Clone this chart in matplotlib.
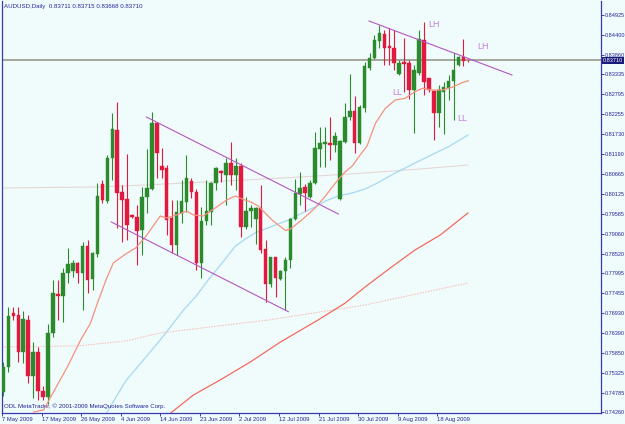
"""Recreate the AUDUSD daily MetaTrader candlestick chart."""

import matplotlib

matplotlib.use("Agg")
import matplotlib.pyplot as plt
from matplotlib.transforms import blended_transform_factory

OUTPUT = "out.png"

# daily candles, one entry per bar (the ODL feed has Sunday bars)
OPEN = [
    0.74810, 0.75480, 0.76929, 0.76876, 0.75883, 0.76741, 0.75239, 0.75883, 0.74836, 0.74675,
    0.76393, 0.77439, 0.77385, 0.78002, 0.78056, 0.78271, 0.78002, 0.78727, 0.77841, 0.78512,
    0.80390, 0.79934, 0.81088, 0.81839, 0.80176, 0.79988, 0.79559, 0.79505, 0.79156, 0.80041,
    0.80256, 0.82027, 0.80873, 0.80820, 0.79478, 0.78754, 0.79612, 0.79907, 0.80471, 0.80176,
    0.78271, 0.79397, 0.79639, 0.80417, 0.80739, 0.80632, 0.80954, 0.80632, 0.80873, 0.79237,
    0.79666, 0.79451, 0.79746, 0.78646, 0.77707, 0.78432, 0.77841, 0.78056, 0.78351, 0.79451,
    0.80122, 0.80310, 0.80041, 0.80417, 0.81329, 0.81463, 0.81490, 0.81437, 0.79988, 0.81517,
    0.82188, 0.82349, 0.81490, 0.82429, 0.83503, 0.83771, 0.84227, 0.84415, 0.84093, 0.84039,
    0.83342, 0.83664, 0.83637, 0.82912, 0.83368, 0.84254, 0.83234, 0.82886, 0.82295, 0.82859,
    0.82966, 0.83154, 0.83583, 0.83798, 0.83711,
]
HIGH = [
    0.75615, 0.77090, 0.77090, 0.77090, 0.76983, 0.76876, 0.76151, 0.76017, 0.74971, 0.76634,
    0.77815, 0.77815, 0.78137, 0.78673, 0.78351, 0.78298, 0.78834, 0.78888, 0.78566, 0.80417,
    0.80498, 0.81168, 0.82295, 0.82590, 0.80363, 0.81195, 0.79586, 0.79827, 0.80310, 0.81329,
    0.82322, 0.82054, 0.81356, 0.80900, 0.79961, 0.79961, 0.80498, 0.81168, 0.80551, 0.80256,
    0.79773, 0.80498, 0.80444, 0.80846, 0.80766, 0.81088, 0.81517, 0.81088, 0.80954, 0.80041,
    0.79827, 0.79773, 0.80363, 0.78888, 0.78432, 0.78432, 0.78083, 0.78432, 0.79478, 0.80524,
    0.80712, 0.80390, 0.80498, 0.81785, 0.81919, 0.81919, 0.82188, 0.81785, 0.81571, 0.82564,
    0.83342, 0.82751, 0.82510, 0.83664, 0.83905, 0.84388, 0.84656, 0.84522, 0.84576, 0.84522,
    0.83717, 0.84307, 0.83717, 0.83583, 0.84522, 0.84737, 0.83234, 0.82912, 0.83047, 0.83127,
    0.83315, 0.83905, 0.83825, 0.84281, 0.83715,
]
LOW = [
    0.74702, 0.75346, 0.76741, 0.75615, 0.75588, 0.75051, 0.74649, 0.74595, 0.74595, 0.74488,
    0.76285, 0.76741, 0.76688, 0.77734, 0.77895, 0.77734, 0.77010, 0.77466, 0.77546, 0.78432,
    0.79881, 0.79881, 0.80498, 0.79210, 0.78834, 0.78888, 0.79478, 0.78217, 0.78485, 0.79612,
    0.80229, 0.80551, 0.80551, 0.79022, 0.78539, 0.78485, 0.79344, 0.79639, 0.80015, 0.78083,
    0.77868, 0.79290, 0.79290, 0.80229, 0.80444, 0.79827, 0.80363, 0.80229, 0.78968, 0.79183,
    0.79237, 0.78781, 0.78539, 0.77224, 0.77627, 0.77358, 0.77815, 0.77010, 0.78137, 0.79424,
    0.79827, 0.79666, 0.80015, 0.80390, 0.80846, 0.80846, 0.81034, 0.81249, 0.79961, 0.81490,
    0.82107, 0.81222, 0.81463, 0.82322, 0.83449, 0.83744, 0.84039, 0.83583, 0.83583, 0.83449,
    0.83315, 0.82859, 0.82671, 0.81759, 0.83315, 0.82778, 0.82859, 0.81571, 0.81919, 0.81732,
    0.82644, 0.82107, 0.83556, 0.83556, 0.83668,
]
CLOSE = [
    0.75480, 0.76849, 0.76849, 0.75883, 0.76768, 0.75239, 0.75883, 0.74836, 0.74675, 0.76393,
    0.77466, 0.77385, 0.78002, 0.78244, 0.78271, 0.78002, 0.78727, 0.77815, 0.78539, 0.80068,
    0.79961, 0.81088, 0.81866, 0.80149, 0.79961, 0.79290, 0.79505, 0.79129, 0.80041, 0.80283,
    0.82027, 0.81222, 0.80766, 0.79424, 0.78754, 0.79639, 0.79934, 0.80551, 0.80176, 0.78271,
    0.79397, 0.79666, 0.80417, 0.80820, 0.80685, 0.80954, 0.80632, 0.80873, 0.79237, 0.79666,
    0.79746, 0.79746, 0.78620, 0.77707, 0.78432, 0.77868, 0.78056, 0.78351, 0.79451, 0.80149,
    0.80283, 0.80149, 0.80417, 0.81356, 0.81490, 0.81517, 0.81437, 0.81678, 0.81544, 0.82188,
    0.82349, 0.81490, 0.82456, 0.83556, 0.83771, 0.84254, 0.84441, 0.84039, 0.84039, 0.83637,
    0.83637, 0.83610, 0.82912, 0.83449, 0.84281, 0.83127, 0.82912, 0.82295, 0.82912, 0.82993,
    0.83154, 0.83449, 0.83798, 0.83690, 0.83710,
]

DATE_LABELS = [
    "7 May 2009", "17 May 2009", "26 May 2009", "4 Jun 2009", "14 Jun 2009", "23 Jun 2009",
    "2 Jul 2009", "12 Jul 2009", "21 Jul 2009", "30 Jul 2009", "9 Aug 2009", "18 Aug 2009",
]
DATE_LABEL_BARS = [0, 8, 16, 24, 32, 40, 48, 56, 64, 72, 80, 88]

PRICE_TICKS = [
    0.84925, 0.84400, 0.83860, 0.83335, 0.82795, 0.82255, 0.81730, 0.81190, 0.80665, 0.80125,
    0.79585, 0.79060, 0.78520, 0.77995, 0.77455, 0.76930, 0.76390, 0.75850, 0.75325, 0.74785,
    0.74260,
]
BID = 0.83710

MA_FAST_BARS = [6.1, 8.1, 12.9, 15.6, 17.6, 19.0, 20.8, 22.2, 24.7, 26.7, 28.7, 30.7, 31.7,
                32.9, 35.0, 37.0, 38.4, 40.4, 42.8, 45.1, 46.9, 48.5, 49.9, 51.5, 52.9, 54.3,
                57.0, 58.0, 60.3, 63.0, 65.1, 67.1, 69.1, 70.5, 72.1, 73.5, 75.2, 77.2, 79.2,
                81.2, 83.2, 84.7, 86.7, 88.7, 90.7, 92.7, 94.0]
MA_FAST = [0.74273, 0.74327, 0.75480, 0.76205, 0.76661, 0.77198, 0.77841, 0.78271, 0.78512,
           0.78673, 0.78968, 0.79344, 0.79532, 0.79478, 0.79559, 0.79666, 0.79559, 0.79532,
           0.79746, 0.79961, 0.80068, 0.79974, 0.79915, 0.79800, 0.79612, 0.79424, 0.79143,
           0.79183, 0.79424, 0.79746, 0.80068, 0.80417, 0.80720, 0.80873, 0.81168, 0.81410,
           0.82019, 0.82421, 0.82644, 0.82690, 0.82867, 0.82958, 0.82912, 0.82912, 0.82985,
           0.83108, 0.83162]

MA_MID_BARS = [20.6, 24.7, 31.7, 36.4, 38.8, 41.4, 44.2, 46.9, 48.9, 50.9, 52.9, 55.0, 57.6,
               60.4, 63.0, 65.1, 67.7, 70.5, 73.1, 75.2, 79.2, 83.2, 87.3, 89.9, 93.9]
MA_MID = [0.74193, 0.75105, 0.76205, 0.77010, 0.77358, 0.77815, 0.78271, 0.78727, 0.78915,
          0.79076, 0.79183, 0.79290, 0.79424, 0.79612, 0.79773, 0.79934, 0.80068, 0.80149,
          0.80256, 0.80390, 0.80685, 0.80954, 0.81222, 0.81383, 0.81705]

MA_SLOW_BARS = [33.3, 38.4, 43.8, 49.9, 56.0, 63.6, 69.1, 73.1, 78.2, 83.2, 88.3, 93.9]
MA_SLOW = [0.74193, 0.74729, 0.75132, 0.75615, 0.76151, 0.76741, 0.77198, 0.77627, 0.78137,
           0.78620, 0.79022, 0.79612]

MA_LONG_BARS = [-1.0, 15.0, 24.7, 31.7, 53.5, 73.1, 93.9]
MA_LONG = [0.76017, 0.76044, 0.76178, 0.76393, 0.76741, 0.77144, 0.77734]

MA_FLAT_BARS = [-1.0, 18.6, 28.7, 48.9, 60.0, 73.1, 84.2, 93.9]
MA_FLAT = [0.80283, 0.80310, 0.80363, 0.80498, 0.80578, 0.80685, 0.80793, 0.80900]

# hand-drawn trend lines: (bar, price) end points
CHANNEL_TOP = [(28.9, 0.82188), (67.7, 0.79585)]
CHANNEL_BOTTOM = [(21.8, 0.79371), (57.6, 0.76964)]
RESISTANCE = [(73.9, 0.84764), (102.8, 0.83315)]

SWING_LABELS = [("LH", 85.8, 0.84657), ("LH", 95.7, 0.84080),
                ("LL", 78.6, 0.82832), ("LL", 91.7, 0.82148)]

BG = "#f0fcfc"
NAVY = "#22229a"
BULL = "#2b8a2b"
BEAR = "#e2183e"
TREND = "#b455c4"
FONT = ["Liberation Sans", "DejaVu Sans"]


def draw_candles(ax):
    """Draw wicks and bodies for every bar."""
    for i, (o, h, l, c) in enumerate(zip(OPEN, HIGH, LOW, CLOSE)):
        color = BULL if c >= o else BEAR
        ax.vlines(i, l, h, color=color, lw=0.8, zorder=3)
        height = max(abs(c - o), 0.00012)
        ax.bar(i, height, bottom=min(o, c), width=0.72, color=color,
               edgecolor=color, lw=0.3, zorder=4)


def draw_overlays(ax):
    """Moving averages, trend lines and the bid line."""
    ax.plot(MA_FLAT_BARS, MA_FLAT, color="#e6d6d6", lw=0.8, zorder=1)
    ax.plot(MA_LONG_BARS, MA_LONG, color="#f6c4bc", lw=0.8, ls=(0, (1.5, 1)), zorder=1)
    ax.plot(MA_SLOW_BARS, MA_SLOW, color="#f26a5c", lw=0.9, zorder=2)
    ax.plot(MA_MID_BARS, MA_MID, color="#a6d8f2", lw=0.9, zorder=2)
    ax.plot(MA_FAST_BARS, MA_FAST, color="#f5907e", lw=0.9, zorder=5)

    for line in (CHANNEL_TOP, CHANNEL_BOTTOM, RESISTANCE):
        xs, ys = zip(*line)
        ax.plot(xs, ys, color=TREND, lw=0.8, zorder=6)

    for text, x, y in SWING_LABELS:
        ax.text(x, y, text, color="#c27fdc", fontsize=6.5, family=FONT,
                ha="left", va="center", zorder=7)

    ax.axhline(BID, color="#a09f92", lw=1.3, zorder=2)


def style_axes(fig, ax):
    """MetaTrader-like frame, price scale on the right, dates below."""
    ax.set_facecolor(BG)
    ax.set_xlim(-0.2, 120.8)
    ax.set_ylim(0.74246, 0.85300)

    for side in ("left", "bottom", "right"):
        ax.spines[side].set_color("#3a3aae")
        ax.spines[side].set_linewidth(0.9)
    ax.spines["top"].set_visible(False)

    ax.yaxis.tick_right()
    ax.set_yticks(PRICE_TICKS)
    ax.set_yticklabels([f"{v:.5f}" for v in PRICE_TICKS])
    ax.set_xticks([b - 0.3 for b in DATE_LABEL_BARS])
    ax.set_xticklabels(DATE_LABELS)
    ax.tick_params(axis="both", direction="out", length=2, width=0.6,
                   color=NAVY, labelcolor=NAVY, labelsize=4.0, pad=0.6)
    ax.tick_params(axis="x", labelsize=4.2, pad=0.8)
    for label in ax.get_xticklabels():
        label.set_horizontalalignment("left")
        label.set_family(FONT)
    for label in ax.get_yticklabels():
        label.set_family(FONT)

    right_y = blended_transform_factory(ax.transAxes, ax.transData)
    ax.text(1.0035, BID, "0.83710", transform=right_y, color="white",
            fontsize=4.0, family=FONT, ha="left", va="center", zorder=10,
            bbox=dict(facecolor="#1a1a78", edgecolor="none", pad=0.7))

    ax.text(0.004, 0.986, "AUDUSD,Daily  0.83711 0.83715 0.83668 0.83710",
            transform=ax.transAxes, color=NAVY, fontsize=4.4, family=FONT,
            ha="left", va="center")
    ax.text(0.004, 0.01, "ODL MetaTrader, \u00a9 2001-2009 MetaQuotes Software Corp.",
            transform=ax.transAxes, color=NAVY, fontsize=4.4, family=FONT,
            ha="left", va="bottom")


def main():
    fig = plt.figure(figsize=(6.25, 4.24), dpi=100, facecolor=BG)
    ax = fig.add_axes([2 / 625, 11 / 424, 599 / 625, 412 / 424])
    draw_overlays(ax)
    draw_candles(ax)
    style_axes(fig, ax)
    fig.savefig(OUTPUT, dpi=100, facecolor=BG)
    plt.close(fig)


if __name__ == "__main__":
    main()
